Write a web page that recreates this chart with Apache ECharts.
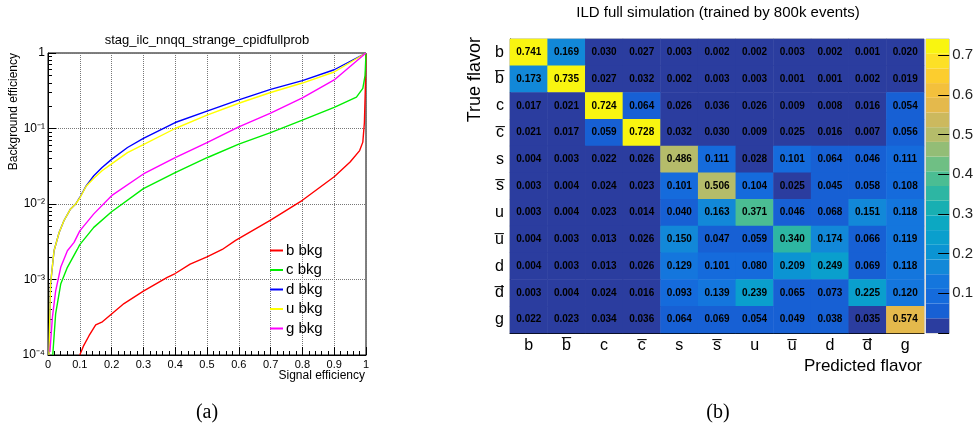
<!DOCTYPE html>
<html>
<head>
<meta charset="utf-8">
<script src="https://cdn.jsdelivr.net/npm/echarts@6/dist/echarts.min.js"></script>
<style>html,body{margin:0;background:#fff}</style>
</head>
<body>
<div id="main" style="width:976px;height:435px;"></div>
<script>
// ---- left panel: background efficiency vs signal efficiency ----
const bkgNames = ['b bkg', 'c bkg', 'd bkg', 'u bkg', 'g bkg'];
const bkgColors = ['#ff0000', '#00ee00', '#0000ff', '#ffff00', '#ff00ff'];

const sigB = [0.1, 0.111, 0.129, 0.15, 0.171, 0.2, 0.239, 0.3, 0.375, 0.4, 0.447, 0.5, 0.548, 0.59, 0.7, 0.8, 0.9, 0.95, 0.98, 0.99, 0.995, 0.998, 1.0];
const bkgB = [1e-4, 1.3e-4, 1.8e-4, 2.5e-4, 2.75e-4, 3.5e-4, 4.8e-4, 7e-4, 1.07e-3, 1.2e-3, 1.6e-3, 2e-3, 2.5e-3, 3.3e-3, 6.1e-3, 0.0112, 0.023, 0.036, 0.051, 0.066, 0.12, 0.35, 1];

const sigC = [0.015, 0.024, 0.04, 0.061, 0.092, 0.1, 0.144, 0.2, 0.3, 0.4, 0.5, 0.6, 0.7, 0.8, 0.9, 0.97, 0.99, 0.997, 1.0];
const bkgC = [1e-4, 3.5e-4, 8.7e-4, 1.45e-3, 2.5e-3, 2.9e-3, 4.9e-3, 7.9e-3, 0.016, 0.026, 0.041, 0.062, 0.088, 0.129, 0.19, 0.26, 0.34, 0.5, 1];

const sigD = [0.003, 0.006, 0.008, 0.019, 0.035, 0.05, 0.071, 0.087, 0.1, 0.12, 0.144, 0.17, 0.2, 0.25, 0.3, 0.4, 0.5, 0.6, 0.7, 0.8, 0.9, 1.0];
const bkgD = [1e-4, 3.7e-4, 8.7e-4, 2.4e-3, 4.2e-3, 6e-3, 8.6e-3, 0.01, 0.0122, 0.0174, 0.0237, 0.0305, 0.039, 0.056, 0.074, 0.12, 0.17, 0.24, 0.33, 0.43, 0.60, 1];

const sigU = [0.003, 0.006, 0.008, 0.019, 0.035, 0.05, 0.071, 0.087, 0.1, 0.12, 0.144, 0.17, 0.2, 0.25, 0.3, 0.4, 0.5, 0.6, 0.7, 0.8, 0.9, 1.0];
const bkgU = [1e-4, 3.7e-4, 8.7e-4, 2.4e-3, 4.2e-3, 6e-3, 8.6e-3, 0.01, 0.012, 0.0172, 0.022, 0.0276, 0.034, 0.048, 0.061, 0.10, 0.15, 0.216, 0.30, 0.40, 0.56, 1];

const sigG = [0.006, 0.014, 0.024, 0.04, 0.061, 0.082, 0.1, 0.144, 0.2, 0.3, 0.4, 0.5, 0.6, 0.7, 0.8, 0.9, 1.0];
const bkgG = [1.1e-4, 3.2e-4, 7e-4, 1.45e-3, 2.4e-3, 3.1e-3, 4.4e-3, 7.4e-3, 0.0129, 0.025, 0.041, 0.065, 0.105, 0.16, 0.254, 0.44, 1];

const curves = [[sigB, bkgB], [sigC, bkgC], [sigD, bkgD], [sigU, bkgU], [sigG, bkgG]];

// ---- right panel: confusion matrix ----
const flavors = ['b', 'b\u0305', 'c', 'c\u0305', 's', 's\u0305', 'u', 'u\u0305', 'd', 'd\u0305', 'g'];
const matrix = [
  [0.741, 0.169, 0.030, 0.027, 0.003, 0.002, 0.002, 0.003, 0.002, 0.001, 0.020],
  [0.173, 0.735, 0.027, 0.032, 0.002, 0.003, 0.003, 0.001, 0.001, 0.002, 0.019],
  [0.017, 0.021, 0.724, 0.064, 0.026, 0.036, 0.026, 0.009, 0.008, 0.016, 0.054],
  [0.021, 0.017, 0.059, 0.728, 0.032, 0.030, 0.009, 0.025, 0.016, 0.007, 0.056],
  [0.004, 0.003, 0.022, 0.026, 0.486, 0.111, 0.028, 0.101, 0.064, 0.046, 0.111],
  [0.003, 0.004, 0.024, 0.023, 0.101, 0.506, 0.104, 0.025, 0.045, 0.058, 0.108],
  [0.003, 0.004, 0.023, 0.014, 0.040, 0.163, 0.371, 0.046, 0.068, 0.151, 0.118],
  [0.004, 0.003, 0.013, 0.026, 0.150, 0.047, 0.059, 0.340, 0.174, 0.066, 0.119],
  [0.004, 0.003, 0.013, 0.026, 0.129, 0.101, 0.080, 0.209, 0.249, 0.069, 0.118],
  [0.003, 0.004, 0.024, 0.016, 0.093, 0.139, 0.239, 0.065, 0.073, 0.225, 0.120],
  [0.022, 0.023, 0.034, 0.036, 0.064, 0.069, 0.054, 0.049, 0.038, 0.035, 0.574]
];
const zMax = 0.741;
const zTicks = [0.1, 0.2, 0.3, 0.4, 0.5, 0.6, 0.7];

// 20 colour contours, bottom to top
const palette = ['#2b3d9f', '#1760d4', '#156bdc', '#1476dd', '#1288d8', '#0b94d3', '#0a9fcd', '#0ca8c2',
  '#18afb2', '#2db6a3', '#4bbd93', '#6fbf84', '#93bd76', '#b5bc6a', '#ccb95e', '#e4b94c',
  '#f3c03c', '#fccd2e', '#fde026', '#f9f510'];

const step = zMax / palette.length;
const pieces = palette.map((c, i) => i === palette.length - 1
  ? { gte: i * step, lte: 1, color: c }
  : { gte: i * step, lt: (i + 1) * step, color: c });

const heatData = [];
matrix.forEach((row, r) => row.forEach((v, c) => heatData.push([c, r, v])));

const supers = { '1': '\u00b9', '2': '\u00b2', '3': '\u00b3', '4': '\u2074' };

const myChart = echarts.init(document.getElementById('main'));

const lineSeries = curves.map((cv, i) => ({
  name: bkgNames[i],
  type: 'line',
  xAxisIndex: 0,
  yAxisIndex: 0,
  symbol: 'none',
  showSymbol: false,
  lineStyle: { width: 1.4, color: bkgColors[i] },
  itemStyle: { color: bkgColors[i] },
  data: cv[0].map((x, k) => [x, cv[1][k]])
}));

const colorBarSeries = palette.map(c => ({
  type: 'bar',
  xAxisIndex: 2,
  yAxisIndex: 2,
  stack: 'cb',
  barWidth: '100%',
  silent: true,
  itemStyle: { color: c },
  data: [step]
}));

const txt = (x, y, text, font, extra) => ({
  type: 'text', x: x, y: y,
  style: Object.assign({ text: text, font: font, fill: '#000', textAlign: 'center', textVerticalAlign: 'middle',
    align: 'center', verticalAlign: 'middle' }, extra || {})
});

const option = {
  animation: false,
  backgroundColor: '#fff',
  textStyle: { fontFamily: 'Liberation Sans' },
  graphic: [
    txt(207, 40, 'stag_ilc_nnqq_strange_cpidfullprob', '13px Liberation Sans'),
    txt(718, 13, 'ILD full simulation (trained by 800k events)', '15px Liberation Sans'),
    txt(207, 413, '(a)', '20px Liberation Serif'),
    txt(718, 413, '(b)', '20px Liberation Serif'),
    Object.assign(txt(14, 53, 'Background efficiency', '12px Liberation Sans',
      { textAlign: 'right', align: 'right' }), { rotation: Math.PI / 2 }),
    Object.assign(txt(475, 37, 'True flavor', '18px Liberation Sans',
      { textAlign: 'right', align: 'right' }), { rotation: Math.PI / 2 })
  ],
  legend: {
    data: bkgNames.map((n, i) => ({ name: n, icon: 'rect', itemStyle: { color: bkgColors[i] } })),
    orient: 'vertical',
    left: 270,
    top: 243,
    padding: 0,
    itemWidth: 13,
    itemHeight: 2,
    itemGap: 4.5,
    textStyle: { fontSize: 15, color: '#000', padding: [0, 0, 0, -2] }
  },
  grid: [
    { left: 48, top: 53, width: 318, height: 302, show: true, borderColor: '#000', borderWidth: 1 },
    { left: 510, top: 39, width: 414, height: 294, show: true, borderColor: '#aaa', borderWidth: 1 },
    { left: 926, top: 39, width: 25, height: 294, show: true, borderColor: '#bbb', borderWidth: 1 }
  ],
  xAxis: [
    {
      gridIndex: 0, type: 'value', min: 0, max: 1, interval: 0.1,
      name: 'Signal efficiency', nameLocation: 'end', nameGap: -1,
      nameTextStyle: { fontSize: 12, color: '#000', align: 'right', verticalAlign: 'top', padding: [15, 0, 0, 0] },
      axisLine: { lineStyle: { color: '#000' } },
      axisTick: { inside: true, length: 8, lineStyle: { color: '#000' } },
      minorTick: { show: true, splitNumber: 5, length: 4, lineStyle: { color: '#000' } },
      axisLabel: { fontSize: 11, color: '#000', margin: 4 },
      splitLine: { show: true, lineStyle: { type: 'dotted', color: '#777' } }
    },
    {
      gridIndex: 1, type: 'category', data: flavors,
      name: 'Predicted flavor', nameLocation: 'end', nameGap: -2,
      nameTextStyle: { fontSize: 17, color: '#000', align: 'right', verticalAlign: 'top', padding: [25, 0, 0, 0] },
      axisLine: { lineStyle: { color: '#000' } },
      axisTick: { inside: true, length: 7, lineStyle: { color: '#000' } },
      axisLabel: { fontSize: 16, color: '#000', margin: 5 },
      splitLine: { show: false }
    },
    {
      gridIndex: 2, type: 'category', data: [''], show: false
    }
  ],
  yAxis: [
    {
      gridIndex: 0, type: 'log', logBase: 10, min: 1e-4, max: 1,
      axisLine: { lineStyle: { color: '#000' } },
      axisTick: { inside: true, length: 8, lineStyle: { color: '#000' } },
      minorTick: { show: true, splitNumber: 9, length: 4, lineStyle: { color: '#000' } },
      axisLabel: {
        fontSize: 12, color: '#000', margin: 3,
        formatter: v => {
          const e = Math.round(Math.log10(v));
          return e === 0 ? '1' : '10\u207b' + supers[String(-e)];
        }
      },
      splitLine: { show: true, lineStyle: { type: 'dotted', color: '#777' } }
    },
    {
      gridIndex: 1, type: 'category', data: flavors, inverse: true,
      axisLine: { lineStyle: { color: '#000' } },
      axisTick: { inside: true, length: 7, lineStyle: { color: '#000' } },
      axisLabel: { fontSize: 16, color: '#000', margin: 6 },
      splitLine: { show: false }
    },
    {
      gridIndex: 2, type: 'value', min: 0, max: zMax, interval: 0.1, position: 'right', z: 10,
      axisLine: { show: false },
      axisTick: { show: true, inside: true, length: 11, lineStyle: { color: '#000' } },
      axisLabel: {
        fontSize: 15, color: '#222', margin: 3, showMaxLabel: false,
        formatter: v => zTicks.some(t => Math.abs(t - v) < 1e-6) ? v.toFixed(1) : ''
      },
      splitLine: { show: false }
    }
  ],
  visualMap: {
    type: 'piecewise',
    show: false,
    seriesIndex: lineSeries.length,
    dimension: 2,
    pieces: pieces
  },
  series: lineSeries.concat([
    {
      type: 'heatmap',
      xAxisIndex: 1,
      yAxisIndex: 1,
      data: heatData,
      label: {
        show: true,
        color: '#000',
        fontSize: 10,
        fontWeight: 'bold',
        formatter: p => p.value[2].toFixed(3)
      },
      itemStyle: { borderWidth: 0 }
    }
  ], colorBarSeries)
};

myChart.setOption(option);
window.addEventListener('resize', function () {
  myChart.resize();
});
</script>
</body>
</html>
